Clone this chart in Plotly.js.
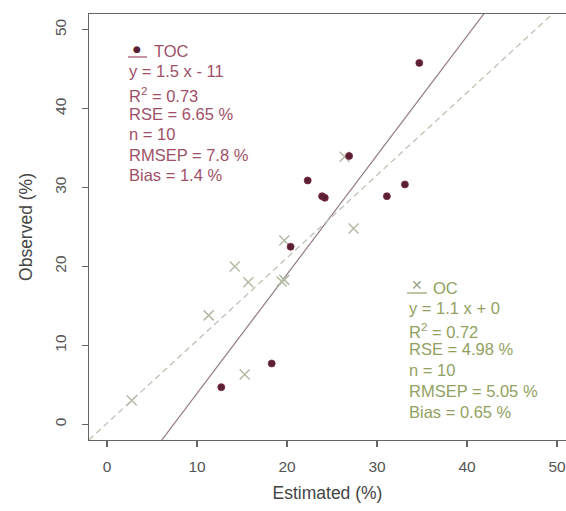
<!DOCTYPE html>
<html>
<head>
<meta charset="utf-8">
<script src="https://cdn.plot.ly/plotly-3.0.1.min.js"></script>
<style>html,body{margin:0;padding:0;background:#fff;}#chart{width:566px;height:511px;}</style>
</head>
<body>
<div id="chart"></div>
<script>
// ---- data ----
const tocEstimated = [34.7, 26.9, 22.3, 23.9, 24.2, 20.4, 31.1, 33.1, 18.3, 12.7];
const tocObserved  = [45.8, 34.0, 30.9, 28.9, 28.7, 22.5, 28.9, 30.4, 7.7, 4.7];
const ocEstimated  = [2.75, 11.3, 14.2, 15.7, 19.4, 19.7, 15.3, 19.7, 27.4, 26.4];
const ocObserved   = [3.0, 13.8, 20.0, 18.0, 18.1, 18.3, 6.3, 23.3, 24.8, 33.9];
const tocFit = {slope: 1.51, intercept: -11.2};
const ocFit  = {slope: 1.048, intercept: 0.13};
const tocLines = ["y = 1.5 x - 11", "R<sup>2</sup> = 0.73", "RSE = 6.65 %", "n = 10", "RMSEP = 7.8 %", "Bias = 1.4 %"];
const ocLines  = ["y = 1.1 x + 0", "R<sup>2</sup> = 0.72", "RSE = 4.98 %", "n = 10", "RMSEP = 5.05 %", "Bias = 0.65 %"];
const xTicks = [0, 10, 20, 30, 40, 50];
const yTicks = [0, 10, 20, 30, 40, 50];

// ---- layout geometry ----
const W = 566, H = 511;
const L = 89, R = 0, T = 14, B = 71;
const xRange = [-2, 51], yRange = [-2, 52];
const pw = W - L - R, ph = H - T - B;
function px2x(px){ return xRange[0] + (px - L) / pw * (xRange[1] - xRange[0]); }
function py2y(py){ return yRange[1] - (py - T) / ph * (yRange[1] - yRange[0]); }

const tocColor = '#5a1f32', tocText = '#9e5068';
const ocColor = '#b3bba5', ocText = '#92a162';
const lineX = [xRange[0], xRange[1]];

const traces = [
  {x: lineX, y: lineX.map(v => tocFit.slope * v + tocFit.intercept), mode: 'lines',
   line: {color: '#927a85', width: 1.2}, hoverinfo: 'skip'},
  {x: lineX, y: lineX.map(v => ocFit.slope * v + ocFit.intercept), mode: 'lines',
   line: {color: '#bcc3b1', width: 1.3, dash: '6px,4px'}, hoverinfo: 'skip'},
  {x: ocEstimated, y: ocObserved, mode: 'markers', name: 'OC',
   marker: {symbol: 'x-thin', size: 10, line: {color: ocColor, width: 1.5}, color: ocColor}},
  {x: tocEstimated, y: tocObserved, mode: 'markers', name: 'TOC',
   marker: {symbol: 'circle', size: 7, color: tocColor, line: {color: '#7a2a40', width: 0.8}}}
];

const fontFam = 'Liberation Sans, Arial, sans-serif';
const annotations = [];
function addText(txt, px, py, color){
  annotations.push({text: txt, x: px2x(px), y: py2y(py), xref: 'x', yref: 'y',
    xanchor: 'left', yanchor: 'middle', showarrow: false,
    font: {family: fontFam, size: 16.5, color: color}});
}
addText('TOC', 152, 51, tocText);
const tocY = [71, 95, 114, 134, 155, 175];
tocLines.forEach((t, i) => addText(t, 127, tocY[i], tocText));
addText('OC', 431, 288, ocText);
const ocY = [308, 331, 349, 370, 391, 412];
ocLines.forEach((t, i) => addText(t, 407, ocY[i], ocText));
// legend symbols
annotations.push({text: '●', x: px2x(137), y: py2y(49), xref: 'x', yref: 'y', showarrow: false,
  xanchor: 'center', yanchor: 'middle', font: {family: 'DejaVu Sans', size: 9, color: tocColor}});
annotations.push({text: '✕', x: px2x(417), y: py2y(285), xref: 'x', yref: 'y', showarrow: false,
  xanchor: 'center', yanchor: 'middle', font: {family: 'DejaVu Sans', size: 14, color: '#9aa38a'}});

const shapes = [
  {type: 'line', xref: 'x', yref: 'y', x0: px2x(128), x1: px2x(147), y0: py2y(57), y1: py2y(57),
   line: {color: tocText, width: 1.2}},
  {type: 'line', xref: 'x', yref: 'y', x0: px2x(407), x1: px2x(427), y0: py2y(293), y1: py2y(293),
   line: {color: ocText, width: 1.2}}
];

const layout = {
  width: W, height: H,
  margin: {l: L, r: R, t: T, b: B, pad: 0},
  paper_bgcolor: '#fff', plot_bgcolor: '#fff',
  showlegend: false,
  font: {family: fontFam, color: '#444'},
  xaxis: {range: xRange, tickvals: xTicks, ticktext: xTicks.map(String),
    showgrid: false, zeroline: false, showline: true, mirror: true,
    linecolor: '#666', linewidth: 1.3, ticks: 'outside', ticklen: 6, tickcolor: '#666', tickwidth: 1.2,
    tickfont: {size: 15.5, color: '#555'}, ticklabelstandoff: 6,
    title: {text: 'Estimated (%)', font: {size: 17.5, color: '#444'}, standoff: 12},
    automargin: false},
  yaxis: {range: yRange, tickvals: yTicks, ticktext: yTicks.map(String),
    showgrid: false, zeroline: false, showline: true, mirror: false,
    linecolor: '#666', linewidth: 1.3, ticks: 'outside', ticklen: 6, tickcolor: '#666', tickwidth: 1.2,
    tickfont: {size: 15.5, color: '#555'}, tickangle: -90, ticklabelstandoff: 10,
    title: {text: 'Observed (%)', font: {size: 17.5, color: '#444'}, standoff: 14},
    automargin: false},
  annotations: annotations,
  shapes: shapes
};

Plotly.newPlot('chart', traces, layout, {displayModeBar: false, staticPlot: true});
</script>
</body>
</html>
